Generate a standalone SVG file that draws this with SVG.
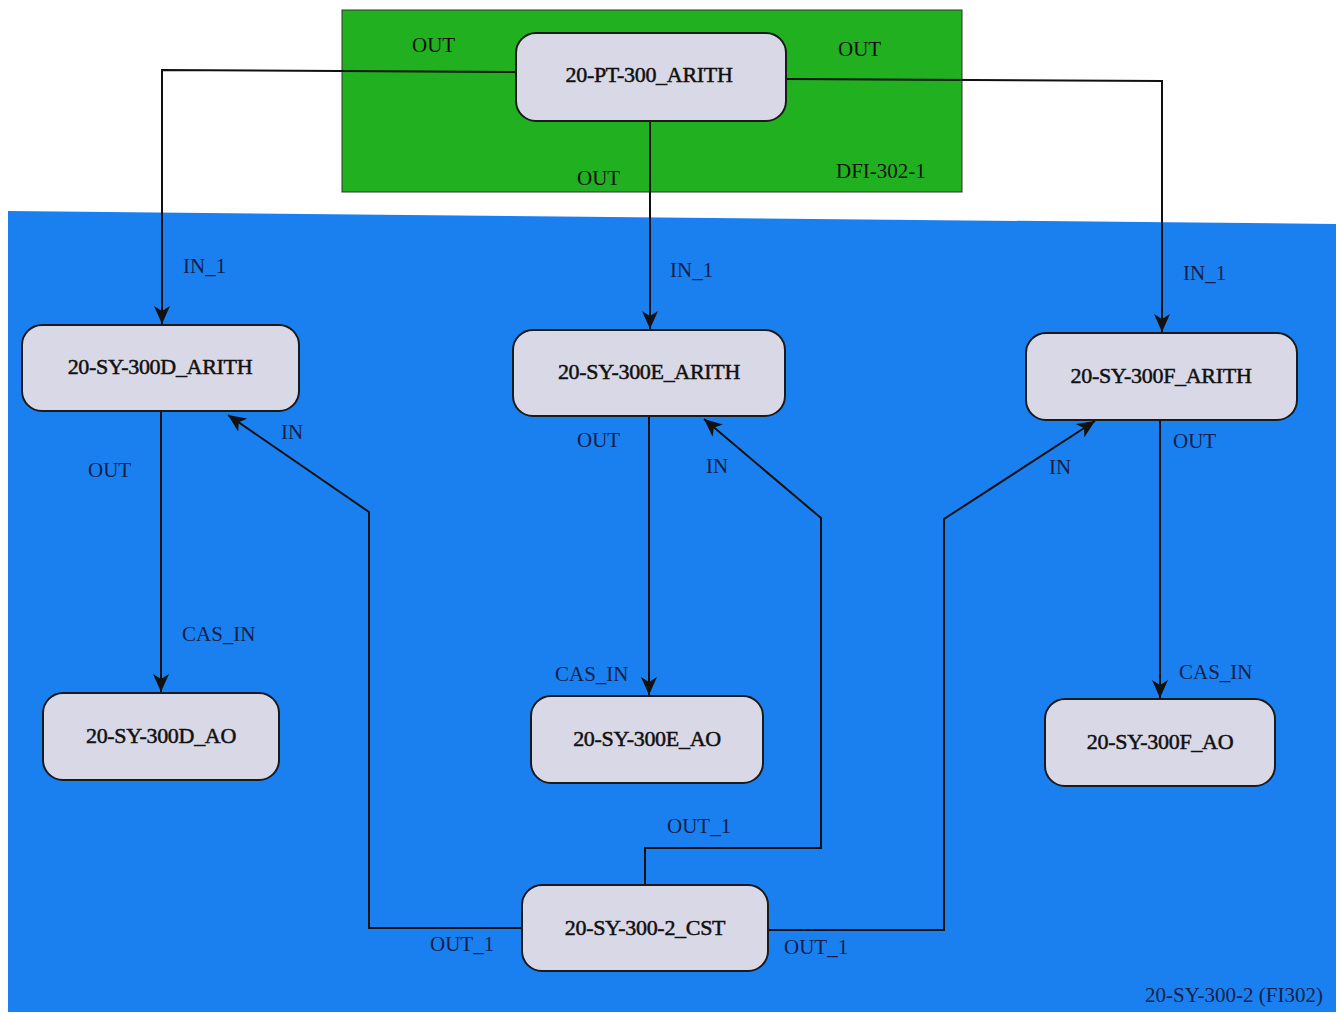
<svg xmlns="http://www.w3.org/2000/svg" width="1339" height="1014" viewBox="0 0 1339 1014">
<defs>
<marker id="arr" markerUnits="userSpaceOnUse" markerWidth="20" markerHeight="16" refX="18" refY="8" orient="auto">
<path d="M0,0 L18,8 L0,16 L5,8 z" fill="#111"/>
</marker>
<style>
.node rect{fill:#d9d8e6;stroke:#1a1a1a;stroke-width:2}
.node text{font-family:"Liberation Serif",serif;font-size:22px;fill:#111;text-anchor:middle;stroke:#111;stroke-width:0.5;letter-spacing:-0.3px}
.lbl{font-family:"Liberation Serif",serif;font-size:21px;fill:#14204a}
.lblk{font-family:"Liberation Serif",serif;font-size:21px;fill:#111}
#connectors path{fill:none;stroke:#111;stroke-width:2}
</style>
</defs>
<rect width="1339" height="1014" fill="#ffffff"/>
<g id="area-dfi">
<rect x="342" y="10" width="620" height="182" fill="#20b020" stroke="#333" stroke-width="1"/>
<text class="lblk" x="836" y="178">DFI-302-1</text>
</g>
<g id="area-fi302">
<polygon points="8,211 1336,224 1336,1012 8,1012" fill="#1a80f0"/>
<text class="lbl" x="1145" y="1002">20-SY-300-2 (FI302)</text>
</g>
<g id="connectors">
<path d="M516,72 L162,70 L162,324" marker-end="url(#arr)"/>
<path d="M650,121 L650,329" marker-end="url(#arr)"/>
<path d="M786,79 L1162,81 L1162,332" marker-end="url(#arr)"/>
<path d="M161,411 L161,692" marker-end="url(#arr)"/>
<path d="M649,416 L649,695" marker-end="url(#arr)"/>
<path d="M1160,420 L1160,698" marker-end="url(#arr)"/>
<path d="M522,928 L369,928 L369,512 L228,415" marker-end="url(#arr)"/>
<path d="M645,885 L645,848 L821,848 L821,518 L704,419" marker-end="url(#arr)"/>
<path d="M768,930 L944,930 L944,519 L1095,421" marker-end="url(#arr)"/>
</g>
<g id="labels">
<text class="lblk" x="412" y="52">OUT</text>
<text class="lblk" x="838" y="56">OUT</text>
<text class="lblk" x="577" y="185">OUT</text>
<text class="lbl" x="183" y="273">IN_1</text>
<text class="lbl" x="670" y="277">IN_1</text>
<text class="lbl" x="1183" y="280">IN_1</text>
<text class="lbl" x="281" y="439">IN</text>
<text class="lbl" x="88" y="477">OUT</text>
<text class="lbl" x="577" y="447">OUT</text>
<text class="lbl" x="706" y="473">IN</text>
<text class="lbl" x="1049" y="474">IN</text>
<text class="lbl" x="1173" y="448">OUT</text>
<text class="lbl" x="182" y="641">CAS_IN</text>
<text class="lbl" x="555" y="681">CAS_IN</text>
<text class="lbl" x="1179" y="679">CAS_IN</text>
<text class="lbl" x="667" y="833">OUT_1</text>
<text class="lbl" x="430" y="951">OUT_1</text>
<text class="lbl" x="784" y="954">OUT_1</text>
</g>
<g id="node-pt300" class="node">
<rect x="516" y="33" width="270" height="88" rx="20"/>
<text x="649" y="82">20-PT-300_ARITH</text>
</g>
<g id="node-300d-arith" class="node">
<rect x="22" y="325" width="277" height="86" rx="20"/>
<text x="160" y="374">20-SY-300D_ARITH</text>
</g>
<g id="node-300e-arith" class="node">
<rect x="513" y="330" width="272" height="86" rx="20"/>
<text x="649" y="379">20-SY-300E_ARITH</text>
</g>
<g id="node-300f-arith" class="node">
<rect x="1026" y="333" width="271" height="87" rx="20"/>
<text x="1161" y="383">20-SY-300F_ARITH</text>
</g>
<g id="node-300d-ao" class="node">
<rect x="43" y="693" width="236" height="87" rx="20"/>
<text x="161" y="743">20-SY-300D_AO</text>
</g>
<g id="node-300e-ao" class="node">
<rect x="531" y="696" width="232" height="87" rx="20"/>
<text x="647" y="746">20-SY-300E_AO</text>
</g>
<g id="node-300f-ao" class="node">
<rect x="1045" y="699" width="230" height="87" rx="20"/>
<text x="1160" y="749">20-SY-300F_AO</text>
</g>
<g id="node-cst" class="node">
<rect x="522" y="885" width="246" height="86" rx="20"/>
<text x="645" y="935">20-SY-300-2_CST</text>
</g>
</svg>
